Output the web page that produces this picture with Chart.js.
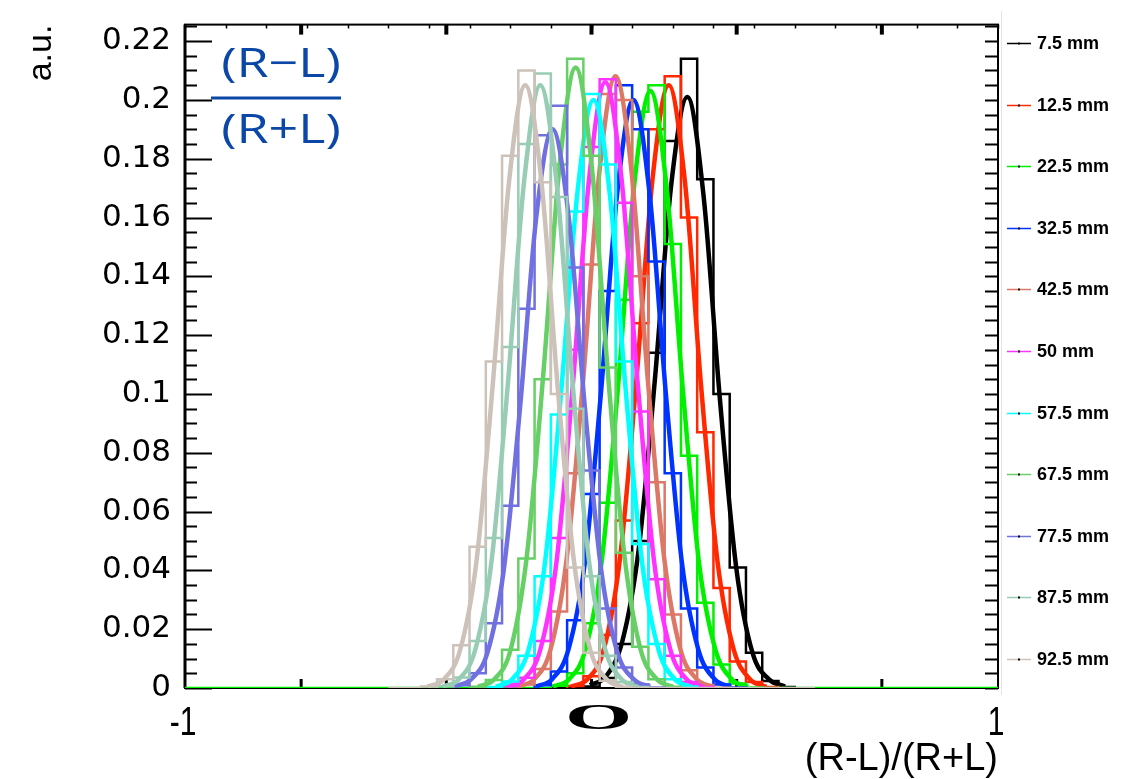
<!DOCTYPE html>
<html>
<head>
<meta charset="utf-8">
<script src="https://cdn.jsdelivr.net/npm/chart.js@4.4.1/dist/chart.umd.min.js"></script>
<style>
  html, body { margin: 0; padding: 0; background: #fff; }
  canvas { display: block; }
</style>
</head>
<body>
<canvas id="asymChart" width="1140" height="779"></canvas>
<script>
// distance of the source from the bar end, one entry per histogram
const seriesLabels = ["7.5 mm", "12.5 mm", "22.5 mm", "32.5 mm", "42.5 mm", "50 mm",
                      "57.5 mm", "67.5 mm", "77.5 mm", "87.5 mm", "92.5 mm"];
const seriesColors = ["#000000", "#ff2800", "#00f000", "#0033ff", "#dc7868", "#ff33ff",
                      "#00ffff", "#66d066", "#7070e0", "#99ccb4", "#ccc2b9"];

// coarse histograms: bin width, left edge of the first bin, bin contents
const binWidth = 0.04;
const histStart = [-0.02, -0.06, -0.10, -0.14, -0.18, -0.22, -0.26, -0.30, -0.34, -0.38, -0.42];
const histValues = [
    [0.0005, 0.0034, 0.015, 0.050, 0.114, 0.186, 0.214, 0.173, 0.100, 0.041, 0.012, 0.0024, 0.0003],
    [0.0007, 0.004, 0.018, 0.057, 0.124, 0.190, 0.208, 0.160, 0.087, 0.034, 0.009, 0.002, 0.0003],
    [0.0008, 0.005, 0.022, 0.063, 0.132, 0.196, 0.205, 0.151, 0.079, 0.029, 0.008, 0.0015, 0.0002],
    [0.0009, 0.0056, 0.023, 0.066, 0.135, 0.205, 0.190, 0.145, 0.073, 0.027, 0.007, 0.0012, 0.0002],
    [0.0012, 0.0065, 0.026, 0.073, 0.144, 0.202, 0.200, 0.140, 0.070, 0.025, 0.006, 0.001, 0.0001],
    [0.0006, 0.0035, 0.016, 0.051, 0.115, 0.184, 0.207, 0.165, 0.094, 0.037, 0.011, 0.002, 0.0003],
    [0.0003, 0.0022, 0.011, 0.038, 0.093, 0.162, 0.202, 0.178, 0.111, 0.049, 0.015, 0.003, 0.0005],
    [0.0004, 0.0027, 0.013, 0.044, 0.105, 0.178, 0.214, 0.181, 0.109, 0.046, 0.014, 0.003, 0.0004],
    [0.0009, 0.005, 0.022, 0.062, 0.129, 0.188, 0.198, 0.143, 0.074, 0.027, 0.007, 0.0013, 0.0002],
    [0.0006, 0.0036, 0.016, 0.051, 0.116, 0.185, 0.209, 0.167, 0.095, 0.038, 0.011, 0.002, 0.0003],
    [0.0005, 0.003, 0.0145, 0.048, 0.111, 0.181, 0.210, 0.172, 0.100, 0.041, 0.012, 0.0025, 0.0004]
];
// empty range drawn along zero (only two histograms show it)
const zeroSpanLo = [null, null, -1, null, null, null, null, null, null, null, -0.5];
const zeroSpanHi = [null, null, 1, null, null, null, null, null, null, null, 0.55];

// fitted curves: centre of each fit, sample offsets, curve heights
const fitMeans = [0.236, 0.19, 0.145, 0.103, 0.059, 0.034, 0.005, -0.039, -0.096, -0.126, -0.163];
const fitOffsets = [-0.24, -0.20, -0.16, -0.12, -0.08, -0.04, 0, 0.04, 0.08, 0.12, 0.16, 0.20, 0.24];
const fitValues = [
    [0.001, 0.004, 0.016, 0.047, 0.105, 0.171, 0.201, 0.167, 0.098, 0.041, 0.012, 0.003, 0.0005],
    [0.0005, 0.003, 0.013, 0.044, 0.104, 0.173, 0.205, 0.172, 0.102, 0.043, 0.013, 0.003, 0.0004],
    [0.0005, 0.003, 0.013, 0.043, 0.102, 0.171, 0.203, 0.170, 0.101, 0.042, 0.013, 0.003, 0.0004],
    [0.0005, 0.003, 0.013, 0.042, 0.100, 0.168, 0.200, 0.168, 0.100, 0.042, 0.013, 0.003, 0.0004],
    [0.0005, 0.003, 0.013, 0.044, 0.104, 0.175, 0.208, 0.175, 0.104, 0.044, 0.013, 0.003, 0.0004],
    [0.0005, 0.003, 0.013, 0.043, 0.103, 0.173, 0.206, 0.173, 0.103, 0.043, 0.013, 0.003, 0.0004],
    [0.0005, 0.003, 0.013, 0.042, 0.100, 0.168, 0.200, 0.168, 0.100, 0.042, 0.013, 0.003, 0.0004],
    [0.0005, 0.003, 0.013, 0.045, 0.106, 0.177, 0.211, 0.177, 0.106, 0.045, 0.013, 0.003, 0.0004],
    [0.0005, 0.003, 0.012, 0.040, 0.095, 0.160, 0.190, 0.160, 0.095, 0.040, 0.012, 0.003, 0.0004],
    [0.0005, 0.003, 0.013, 0.043, 0.103, 0.172, 0.205, 0.172, 0.103, 0.043, 0.013, 0.003, 0.0004],
    [0.0005, 0.003, 0.013, 0.043, 0.103, 0.172, 0.205, 0.172, 0.102, 0.043, 0.013, 0.003, 0.0004]
];

// axes
const yTickValues = [0, 0.02, 0.04, 0.06, 0.08, 0.1, 0.12, 0.14, 0.16, 0.18, 0.2, 0.22];
const xTickValues = [-1, 0, 1];
const xTickLabels = ["-1", "O", "1"];
const topMajorTicks = [-1, -0.5, 0, 0.5, 1];   // on the hidden -1.4..1.4 axis

const datasets = [];
seriesLabels.forEach((label, i) => {
    const pts = [];
    if (zeroSpanLo[i] !== null) pts.push({ x: zeroSpanLo[i], y: 0 });
    pts.push({ x: histStart[i], y: 0 });
    histValues[i].forEach((v, k) => pts.push({ x: histStart[i] + k * binWidth, y: v }));
    pts.push({ x: histStart[i] + histValues[i].length * binWidth, y: 0 });
    if (zeroSpanHi[i] !== null) pts.push({ x: zeroSpanHi[i], y: 0 });

    datasets.push({
        label: label + " hist",
        data: pts,
        xAxisID: "x",
        stepped: "before",
        borderColor: seriesColors[i],
        borderWidth: 2.5,
        pointRadius: 0,
        fill: false,
        order: -i + 0.5
    });
    datasets.push({
        label: label,
        data: fitOffsets.map((d, k) => ({ x: fitMeans[i] + d, y: fitValues[i][k] })),
        xAxisID: "x",
        borderColor: seriesColors[i],
        borderWidth: 4.5,
        cubicInterpolationMode: "monotone",
        pointRadius: 0,
        fill: false,
        order: -i
    });
});

// frame and inward tick marks, ROOT style
const frameTicks = {
    id: "frameTicks",
    beforeDatasetsDraw(chart) {
        const { ctx, chartArea: a, scales } = chart;
        const x = scales.x, y = scales.y, xt = scales.xTop;
        ctx.save();
        ctx.strokeStyle = "#000";
        ctx.lineWidth = 2;
        ctx.beginPath();
        for (let k = 0; k <= 45; k++) {
            const v = k * 0.005;
            const py = Math.round(y.getPixelForValue(v)) + 0.5;
            const major = k % 4 === 0;
            ctx.moveTo(a.left, py);
            ctx.lineTo(a.left + (major ? 27 : 12), py);
            ctx.moveTo(a.right, py);
            ctx.lineTo(a.right - 13, py);
        }
        ctx.stroke();

        ctx.lineWidth = 1.5;
        ctx.beginPath();
        for (let k = -10; k <= 10; k++) {
            const px = Math.round(x.getPixelForValue(k / 10)) + 0.5;
            ctx.moveTo(px, a.top);
            ctx.lineTo(px, a.top + 4);
        }
        ctx.stroke();

        ctx.fillStyle = "#000";
        topMajorTicks.forEach(v => {
            const px = xt.getPixelForValue(v);
            ctx.fillRect(px - 2, a.top, 4, 10);
            ctx.fillRect(px - 1.5, a.bottom - 9, 3, 9);
        });

        ctx.lineWidth = 2;
        ctx.strokeRect(a.left, a.top, a.right - a.left, a.bottom - a.top);
        ctx.lineWidth = 3;
        ctx.beginPath();
        ctx.moveTo(a.left, a.top);
        ctx.lineTo(a.left, a.bottom);
        ctx.stroke();
        ctx.restore();
    }
};

// x labels, blue fraction and the legend column
const annotations = {
    id: "annotations",
    afterDraw(chart) {
        const { ctx, chartArea: a, scales } = chart;
        const x = scales.x;
        ctx.save();

        ctx.fillStyle = "#000";
        ctx.textAlign = "center";
        ctx.textBaseline = "alphabetic";
        xTickValues.forEach((v, k) => {
            const px = x.getPixelForValue(v);
            ctx.save();
            if (xTickLabels[k] === "O") {
                ctx.translate(px + 7, a.bottom + 41);
                ctx.scale(2.4, 1);
                ctx.font = "bold 36px 'Liberation Serif'";
            } else {
                ctx.translate(px - 2, a.bottom + 47);
                ctx.scale(0.75, 1);
                ctx.font = "40px 'Liberation Sans'";
            }
            ctx.fillText(xTickLabels[k], 0, 0);
            ctx.restore();
        });

        // (R-L)/(R+L) drawn as a fraction
        ctx.fillStyle = "#0b47a6";
        ctx.strokeStyle = "#0b47a6";
        ctx.font = "40px 'Open Sans'";
        [["(R\u2212L)", 77], ["(R+L)", 143]].forEach(([t, by]) => {
            ctx.save();
            ctx.translate(281, by);
            ctx.scale(1.3, 1);
            ctx.fillText(t, 0, 0);
            ctx.restore();
        });
        ctx.lineWidth = 3;
        ctx.beginPath();
        ctx.moveTo(211, 98);
        ctx.lineTo(341, 98);
        ctx.stroke();

        // legend box edge
        ctx.strokeStyle = "#e4e4e4";
        ctx.lineWidth = 1;
        ctx.beginPath();
        ctx.moveTo(1001.5, 11);
        ctx.lineTo(1001.5, 695);
        ctx.stroke();

        ctx.textAlign = "left";
        ctx.textBaseline = "middle";
        ctx.font = "bold 18px 'Liberation Sans'";
        seriesLabels.forEach((label, i) => {
            const ry = Math.round(43 + i * 61.6) + 0.5;
            ctx.strokeStyle = seriesColors[i];
            ctx.lineWidth = 1.5;
            ctx.beginPath();
            ctx.moveTo(1007, ry);
            ctx.lineTo(1031, ry);
            ctx.stroke();
            ctx.fillStyle = "#000";
            ctx.fillRect(1018, ry - 1, 2, 2);
            ctx.fillText(label, 1037, ry + 1);
        });
        ctx.restore();
    }
};

new Chart(document.getElementById("asymChart"), {
    type: "line",
    data: { datasets: datasets },
    options: {
        responsive: false,
        animation: false,
        devicePixelRatio: 1,
        events: [],
        layout: { padding: { top: 11, right: 142, left: 0, bottom: 0 } },
        plugins: {
            legend: { display: false },
            tooltip: { enabled: false }
        },
        scales: {
            x: {
                type: "linear",
                min: -1,
                max: 1,
                grid: { display: false },
                border: { display: false },
                ticks: { display: false },
                title: {
                    display: true,
                    text: "(R-L)/(R+L)",
                    align: "end",
                    color: "#000",
                    font: { family: "'Liberation Sans'", size: 38, lineHeight: 1 },
                    padding: { top: 0, bottom: 0 }
                },
                afterFit(s) { s.height = 91; }
            },
            xTop: {
                type: "linear",
                position: "top",
                min: -1.4,
                max: 1.4,
                display: false
            },
            y: {
                min: 0,
                max: 0.2256,
                grid: { display: false },
                border: { display: false },
                afterBuildTicks(s) { s.ticks = yTickValues.map(v => ({ value: v })); },
                ticks: {
                    color: "#000",
                    padding: 6,
                    font: { family: "'DejaVu Sans'", size: 31 },
                    callback: v => String(v)
                },
                title: {
                    display: true,
                    text: "a.u.",
                    align: "end",
                    color: "#000",
                    font: { family: "'Liberation Sans'", size: 34, lineHeight: 1 },
                    padding: { top: 25, bottom: 0 }
                },
                afterFit(s) { s.width = 185; }
            }
        }
    },
    plugins: [frameTicks, annotations]
});
</script>
</body>
</html>
